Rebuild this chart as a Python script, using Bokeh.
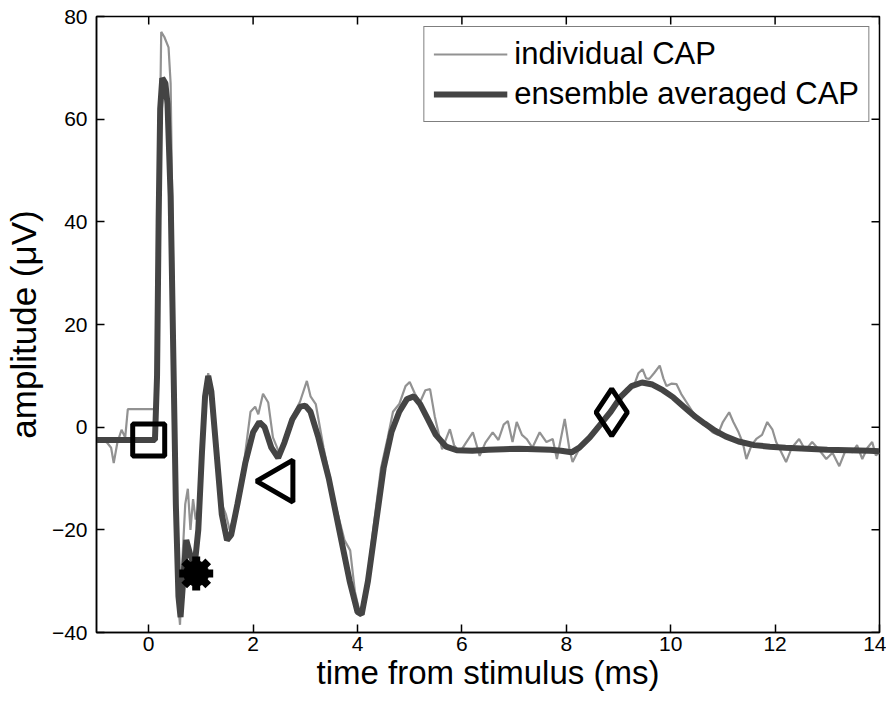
import math
from bokeh.plotting import figure
from bokeh.models import FixedTicker, Range1d, Legend, LegendItem
from bokeh.embed import file_html
from bokeh.resources import INLINE

# ---- data ----
ens_t = [-1.0, -0.5, 0.0, 0.12, 0.16, 0.19, 0.22, 0.26, 0.32, 0.36, 0.42, 0.47, 0.52, 0.57,
         0.61, 0.66, 0.72, 0.8, 0.88, 0.95, 1.02, 1.08, 1.14, 1.2, 1.3, 1.4, 1.5, 1.58, 1.7,
         1.85, 2.0, 2.12, 2.22, 2.35, 2.48, 2.6, 2.75, 2.9, 3.0, 3.1, 3.25, 3.45, 3.65, 3.85,
         4.0, 4.08, 4.2, 4.35, 4.5, 4.65, 4.8, 4.95, 5.08, 5.2, 5.35, 5.5, 5.7, 5.9, 6.2, 6.5,
         6.8, 7.1, 7.4, 7.7, 7.9, 8.1, 8.25, 8.45, 8.65, 8.85, 9.05, 9.25, 9.45, 9.65, 9.85,
         10.05, 10.25, 10.45, 10.65, 10.85, 11.05, 11.3, 11.6, 11.9, 12.2, 12.6, 13.0, 13.4,
         13.8, 14.0]
ens_v = [-2.5, -2.5, -2.5, -2.5, 10, 40, 62, 68, 67, 63, 45, 15, -15, -33,
         -37, -30, -22, -25, -27, -20, -5, 6, 10, 7, -5, -17, -22, -21, -15,
         -7, -1, 1, 0, -4, -6, -3, 1.5, 4, 4.2, 3, -2, -10, -20, -30,
         -36, -36.5, -30, -19, -8, -1, 3, 5.5, 6, 4.5, 1.5, -1.5, -3.8, -4.5, -4.6, -4.4,
         -4.3, -4.2, -4.3, -4.4, -4.6, -4.9, -4, -2, 0.5, 3, 6, 8, 8.7, 8.3, 7.2,
         5.8, 4, 2.2, 0.7, -0.7, -1.8, -2.8, -3.5, -3.8, -4.0, -4.2, -4.4, -4.5,
         -4.6, -4.7]

ind_t = [-1.0, -0.9, -0.8, -0.72, -0.67, -0.6, -0.52, -0.45, -0.4, 0.15, 0.19, 0.24, 0.3,
         0.38, 0.42, 0.47, 0.52, 0.57, 0.6, 0.65, 0.7, 0.75, 0.8, 0.85, 0.9, 0.95, 1.02,
         1.08, 1.14, 1.2, 1.3, 1.4, 1.48, 1.55, 1.65, 1.8, 1.95, 2.04, 2.1, 2.19, 2.29,
         2.38, 2.5, 2.62, 2.75, 2.9, 3.03, 3.1, 3.2, 3.35, 3.55, 3.75, 3.86, 3.95, 4.05,
         4.15, 4.3, 4.45, 4.58, 4.68, 4.8, 4.92, 5.0, 5.1, 5.2, 5.3, 5.39, 5.48, 5.55,
         5.62, 5.77, 5.85, 5.96, 6.08, 6.21, 6.34, 6.45, 6.59, 6.7, 6.8, 6.88, 6.97, 7.05,
         7.15, 7.24, 7.35, 7.49, 7.62, 7.74, 7.82, 7.9, 7.97, 8.06, 8.12, 8.25, 8.4, 8.55,
         8.7, 8.85, 9.0, 9.15, 9.3, 9.38, 9.46, 9.53, 9.59, 9.68, 9.79, 9.86, 9.92, 10.02,
         10.11, 10.2, 10.3, 10.42, 10.55, 10.7, 10.8, 10.9, 11.0, 11.12, 11.2, 11.3, 11.38,
         11.45, 11.55, 11.64, 11.75, 11.85, 11.95, 12.02, 12.1, 12.21, 12.32, 12.46, 12.58,
         12.71, 12.85, 12.98, 13.1, 13.23, 13.35, 13.48, 13.57, 13.67, 13.77, 13.86, 13.93,
         14.0]
ind_v = [-2, -2.5, -3, -4, -7, -3, -0.5, -2, 3.5, 3.5, 40, 77, 76,
         74, 67, 30, -10, -35, -38.5, -25, -15, -12, -20, -14, -18, -16, -4,
         6, 10.5, 7, -4, -15, -17, -20, -17, -9, 3, 4, 2.5, 6.5, 4.8,
         -2, -5, -2, 2, 5, 9, 6, 4.5, -4, -14, -22, -24, -32, -36.5,
         -33, -20, -8, -2, 3, 4.5, 8, 8.8, 6.5, 4.9, 7.2, 7.4, 2.1, -1,
         -4.3, -0.4, -3.5, -4.9, -3, -1, -5.6, -3, -1, -2.5, 0.5, 1.2, -2.9, 1,
         -1.5, -2.3, -4, -1, -2.9, -2.3, -6.2, -2, 1.6, -4.3, -6.8, -4.2, -2.5, -0.8,
         1.2, 3.5, 5.2, 7.5, 8.2, 10.5, 11.3, 9.5, 9.4, 10.5, 12, 9.5, 8, 8.5,
         8.4, 6.5, 4.9, 3, 1.6, 0, -1, -1.5, 1, 2.9, 1, -1, -3,
         -6.2, -3.5, -2.3, -1.5, 1, -0.5, -2.9, -4.5, -6.8, -4, -2.3, -4.5,
         -2.9, -4.5, -6.2, -5, -7.6, -4.5, -4.9, -3.5, -6.2, -4, -2.9, -5.5,
         -5]

# feature markers: onset (square), N1 (asterisk), triangle, diamond
sq_t, sq_v = [0.0], [-2.5]
ast_t, ast_v = [0.91], [-28.5]
tri_t, tri_v = [2.53], [-10.5]
dia_t, dia_v = [8.87], [2.9]

x_ticks = [0, 2, 4, 6, 8, 10, 12, 14]
y_ticks = [-40, -20, 0, 20, 40, 60, 80]
x_lo, x_hi = -1, 14
y_lo, y_hi = -40, 80

FONT = "Liberation Sans"

p = figure(width=886, height=700, output_backend="svg", toolbar_location=None,
           x_range=Range1d(x_lo, x_hi), y_range=Range1d(y_lo, y_hi),
           min_border_left=92, min_border_right=7, min_border_top=16, min_border_bottom=68,
           x_axis_label="time from stimulus (ms)", y_axis_label="amplitude (\u03bcV)")
p.grid.visible = False
p.outline_line_color = "black"
p.outline_line_width = 1.5
p.background_fill_color = "white"
p.border_fill_color = "white"

for ax in (p.xaxis[0], p.yaxis[0]):
    ax.major_tick_in = 8
    ax.major_tick_out = 0
    ax.minor_tick_line_color = None
    ax.axis_line_color = "black"
    ax.axis_line_width = 1.5
    ax.major_tick_line_color = "black"
    ax.major_tick_line_width = 1.5
    ax.major_label_text_font = FONT
    ax.major_label_text_font_size = "21px"
    ax.major_label_text_color = "black"
    ax.axis_label_text_font = FONT
    ax.axis_label_text_font_style = "normal"
    ax.axis_label_text_color = "black"
p.xaxis[0].axis_label_text_font_size = "33px"
p.yaxis[0].axis_label_text_font_size = "35px"
p.xaxis[0].ticker = FixedTicker(ticks=x_ticks)
p.yaxis[0].ticker = FixedTicker(ticks=y_ticks)
p.xaxis[0].major_label_standoff = 4
p.xaxis[0].axis_label_standoff = 0
p.yaxis[0].major_label_standoff = 9
p.yaxis[0].axis_label_standoff = 6

# inward box ticks on the top and right edges (clipped to the frame)
p.scatter(x_ticks, [y_hi] * len(x_ticks), marker="dash", angle=math.pi / 2, size=16,
          line_color="black", line_width=1.5)
p.scatter([x_hi] * len(y_ticks), y_ticks, marker="dash", size=16,
          line_color="black", line_width=1.5)

r_ind = p.line(ind_t, ind_v, line_color="#929292", line_width=2.2)
r_ens = p.line(ens_t, ens_v, line_color="#444444", line_width=6)

p.scatter(sq_t, sq_v, marker="square", size=32, line_color="black", line_width=5,
          fill_color=None)
p.scatter(ast_t, ast_v, marker="circle", size=25, line_color="black", fill_color="black")
p.scatter(ast_t, ast_v, marker="asterisk", size=34, line_color="black", line_width=8)
p.scatter(tri_t, tri_v, marker="triangle", size=42, angle=math.pi / 2, line_color="black",
          line_width=5, fill_color=None)
p.scatter(dia_t, dia_v, marker="diamond", size=47, line_color="black", line_width=5,
          fill_color=None)

legend = Legend(items=[LegendItem(label="individual CAP", renderers=[r_ind]),
                       LegendItem(label="ensemble averaged CAP", renderers=[r_ens])],
                location="top_right")
legend.margin = 10
legend.padding = 9
legend.spacing = 4
legend.glyph_width = 74
legend.glyph_height = 30
legend.label_height = 30
legend.label_standoff = 7
legend.label_text_font = FONT
legend.label_text_font_size = "31px"
legend.label_text_color = "black"
legend.border_line_color = "black"
legend.border_line_width = 1.5
legend.background_fill_color = "white"
legend.background_fill_alpha = 1.0
p.add_layout(legend)

open("out.html", "w").write(file_html(p, INLINE))
